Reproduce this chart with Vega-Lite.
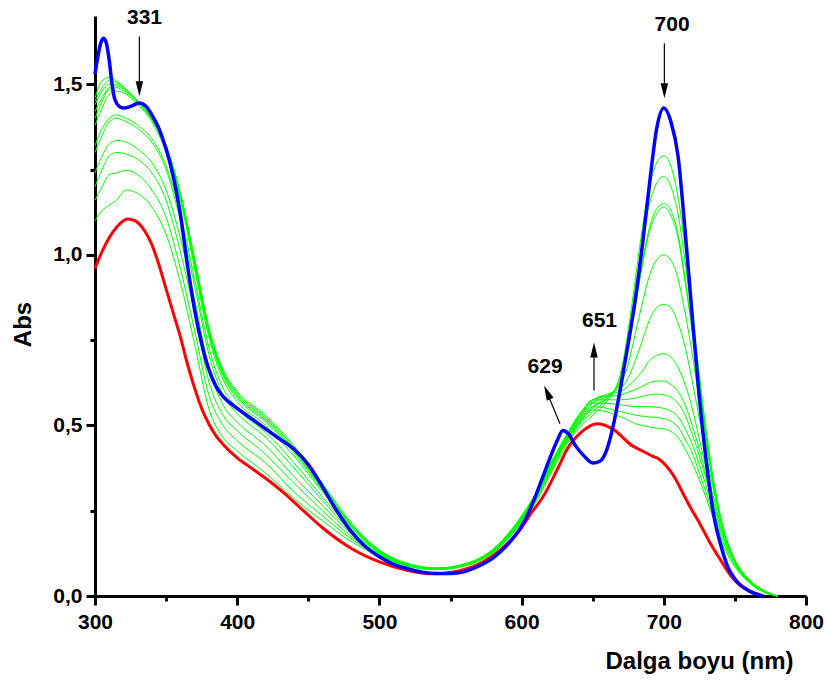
{
"$schema": "https://vega.github.io/schema/vega-lite/v6.json",
"autosize": "none",
"width": 711, "height": 580,
"padding": {"left": 95, "top": 16, "right": 21, "bottom": 86},
"background": "white",
"config": {"view": {"stroke": null},
 "axis": {"grid": false, "domainColor": "black", "domainWidth": 3, "tickColor": "black", "tickWidth": 3,
  "labelFont": "Liberation Sans", "labelFontWeight": "bold", "labelFontSize": 21, "labelColor": "black",
  "titleFont": "Liberation Sans", "titleFontWeight": "bold", "titleFontSize": 24, "titleColor": "black",
  "labelOverlap": false, "labelFlush": false}},
"datasets": {
"notes": [
 {"w": 334.8, "a": 1.694, "label": "331"},
 {"w": 705.8, "a": 1.674, "label": "700"},
 {"w": 654.8, "a": 0.806, "label": "651"},
 {"w": 616.5, "a": 0.672, "label": "629"}
],
"arrows": [
 {"w": 331.2, "a": 1.640, "w2": 331.2, "a2": 1.50},
 {"w": 700.4, "a": 1.620, "w2": 700.4, "a2": 1.49},
 {"w": 650.9, "a": 0.602, "w2": 650.9, "a2": 0.71},
 {"w": 627.0, "a": 0.505, "w2": 618.5, "a2": 0.59}
],
"downheads": [
 {"w": 331.2, "a": 1.487},
 {"w": 700.4, "a": 1.481}
],
"upheads": [
 {"w": 650.9, "a": 0.721}
],
"slantheads": [
 {"w": 617.96, "a": 0.597}
],
"spectra": [
{"s":"blue","w":300,"a":1.53},{"s":"blue","w":302,"a":1.58},{"s":"blue","w":304,"a":1.62},{"s":"blue","w":306,"a":1.635},{"s":"blue","w":308,"a":1.62},{"s":"blue","w":310,"a":1.57},{"s":"blue","w":312,"a":1.50},{"s":"blue","w":314,"a":1.455},{"s":"blue","w":317,"a":1.435},{"s":"blue","w":320,"a":1.43},{"s":"blue","w":325,"a":1.435},{"s":"blue","w":331,"a":1.445},{"s":"blue","w":336,"a":1.435},{"s":"blue","w":340,"a":1.41},{"s":"blue","w":345,"a":1.37},{"s":"blue","w":350,"a":1.31},{"s":"blue","w":355,"a":1.23},{"s":"blue","w":360,"a":1.12},{"s":"blue","w":365,"a":0.97},{"s":"blue","w":370,"a":0.84},{"s":"blue","w":375,"a":0.74},{"s":"blue","w":380,"a":0.665},{"s":"blue","w":385,"a":0.615},{"s":"blue","w":390,"a":0.585},{"s":"blue","w":400,"a":0.55},{"s":"blue","w":410,"a":0.52},{"s":"blue","w":420,"a":0.49},{"s":"blue","w":430,"a":0.46},{"s":"blue","w":440,"a":0.43},{"s":"blue","w":450,"a":0.385},{"s":"blue","w":460,"a":0.32},{"s":"blue","w":470,"a":0.25},{"s":"blue","w":480,"a":0.19},{"s":"blue","w":490,"a":0.145},{"s":"blue","w":500,"a":0.115},{"s":"blue","w":510,"a":0.093},{"s":"blue","w":520,"a":0.08},{"s":"blue","w":530,"a":0.07},{"s":"blue","w":540,"a":0.066},{"s":"blue","w":550,"a":0.066},{"s":"blue","w":560,"a":0.072},{"s":"blue","w":570,"a":0.088},{"s":"blue","w":580,"a":0.112},{"s":"blue","w":590,"a":0.15},{"s":"blue","w":600,"a":0.205},{"s":"blue","w":605,"a":0.245},{"s":"blue","w":610,"a":0.295},{"s":"blue","w":615,"a":0.35},{"s":"blue","w":620,"a":0.405},{"s":"blue","w":625,"a":0.455},{"s":"blue","w":629,"a":0.485},{"s":"blue","w":633,"a":0.475},{"s":"blue","w":638,"a":0.44},{"s":"blue","w":644,"a":0.41},{"s":"blue","w":650,"a":0.39},{"s":"blue","w":655,"a":0.395},{"s":"blue","w":660,"a":0.43},{"s":"blue","w":665,"a":0.51},{"s":"blue","w":670,"a":0.62},{"s":"blue","w":675,"a":0.74},{"s":"blue","w":680,"a":0.87},{"s":"blue","w":685,"a":1.03},{"s":"blue","w":690,"a":1.21},{"s":"blue","w":695,"a":1.37},{"s":"blue","w":700,"a":1.43},{"s":"blue","w":705,"a":1.39},{"s":"blue","w":710,"a":1.29},{"s":"blue","w":715,"a":1.07},{"s":"blue","w":720,"a":0.82},{"s":"blue","w":725,"a":0.58},{"s":"blue","w":730,"a":0.39},{"s":"blue","w":735,"a":0.24},{"s":"blue","w":740,"a":0.15},{"s":"blue","w":745,"a":0.085},{"s":"blue","w":750,"a":0.05},{"s":"blue","w":760,"a":0.015},{"s":"blue","w":770,"a":0},
{"s":"red","w":300,"a":0.96},{"s":"red","w":305,"a":1.01},{"s":"red","w":310,"a":1.05},{"s":"red","w":315,"a":1.08},{"s":"red","w":320,"a":1.10},{"s":"red","w":323,"a":1.105},{"s":"red","w":328,"a":1.10},{"s":"red","w":335,"a":1.07},{"s":"red","w":340,"a":1.03},{"s":"red","w":345,"a":0.97},{"s":"red","w":350,"a":0.90},{"s":"red","w":355,"a":0.83},{"s":"red","w":360,"a":0.76},{"s":"red","w":365,"a":0.68},{"s":"red","w":370,"a":0.61},{"s":"red","w":375,"a":0.55},{"s":"red","w":380,"a":0.505},{"s":"red","w":385,"a":0.47},{"s":"red","w":390,"a":0.445},{"s":"red","w":400,"a":0.405},{"s":"red","w":410,"a":0.375},{"s":"red","w":420,"a":0.345},{"s":"red","w":432,"a":0.305},{"s":"red","w":444,"a":0.26},{"s":"red","w":460,"a":0.20},{"s":"red","w":480,"a":0.14},{"s":"red","w":500,"a":0.10},{"s":"red","w":520,"a":0.075},{"s":"red","w":537,"a":0.065},{"s":"red","w":555,"a":0.073},{"s":"red","w":573,"a":0.10},{"s":"red","w":585,"a":0.135},{"s":"red","w":597,"a":0.184},{"s":"red","w":608,"a":0.25},{"s":"red","w":615,"a":0.29},{"s":"red","w":625,"a":0.37},{"s":"red","w":632,"a":0.43},{"s":"red","w":642,"a":0.48},{"s":"red","w":653,"a":0.505},{"s":"red","w":664,"a":0.49},{"s":"red","w":678,"a":0.44},{"s":"red","w":685,"a":0.425},{"s":"red","w":692,"a":0.41},{"s":"red","w":697,"a":0.40},{"s":"red","w":703,"a":0.375},{"s":"red","w":708,"a":0.345},{"s":"red","w":713,"a":0.305},{"s":"red","w":718,"a":0.265},{"s":"red","w":725,"a":0.215},{"s":"red","w":732,"a":0.16},{"s":"red","w":740,"a":0.105},{"s":"red","w":747,"a":0.06},{"s":"red","w":754,"a":0.03},{"s":"red","w":762,"a":0.012},{"s":"red","w":770,"a":0},
{"s":"g1","w":300,"a":1.46},{"s":"g1","w":305,"a":1.51},{"s":"g1","w":310,"a":1.52},{"s":"g1","w":315,"a":1.51},{"s":"g1","w":322,"a":1.485},{"s":"g1","w":330,"a":1.45},{"s":"g1","w":340,"a":1.40},{"s":"g1","w":350,"a":1.32},{"s":"g1","w":360,"a":1.18},{"s":"g1","w":370,"a":0.99},{"s":"g1","w":380,"a":0.79},{"s":"g1","w":390,"a":0.665},{"s":"g1","w":400,"a":0.60},{"s":"g1","w":420,"a":0.53},{"s":"g1","w":440,"a":0.44},{"s":"g1","w":460,"a":0.33},{"s":"g1","w":480,"a":0.215},{"s":"g1","w":500,"a":0.135},{"s":"g1","w":520,"a":0.095},{"s":"g1","w":540,"a":0.082},{"s":"g1","w":560,"a":0.094},{"s":"g1","w":580,"a":0.138},{"s":"g1","w":600,"a":0.235},{"s":"g1","w":610,"a":0.30},{"s":"g1","w":620,"a":0.375},{"s":"g1","w":630,"a":0.44},{"s":"g1","w":640,"a":0.49},{"s":"g1","w":650,"a":0.53},{"s":"g1","w":660,"a":0.57},{"s":"g1","w":665,"a":0.60},{"s":"g1","w":670,"a":0.66},{"s":"g1","w":675,"a":0.78},{"s":"g1","w":680,"a":0.93},{"s":"g1","w":685,"a":1.08},{"s":"g1","w":690,"a":1.20},{"s":"g1","w":695,"a":1.27},{"s":"g1","w":700,"a":1.29},{"s":"g1","w":705,"a":1.26},{"s":"g1","w":710,"a":1.17},{"s":"g1","w":715,"a":1.02},{"s":"g1","w":720,"a":0.84},{"s":"g1","w":725,"a":0.65},{"s":"g1","w":730,"a":0.48},{"s":"g1","w":735,"a":0.34},{"s":"g1","w":740,"a":0.23},{"s":"g1","w":750,"a":0.10},{"s":"g1","w":760,"a":0.04},{"s":"g1","w":770,"a":0.012},{"s":"g1","w":780,"a":0},
{"s":"g2","w":300,"a":1.45},{"s":"g2","w":305,"a":1.49},{"s":"g2","w":310,"a":1.51},{"s":"g2","w":315,"a":1.505},{"s":"g2","w":322,"a":1.485},{"s":"g2","w":330,"a":1.45},{"s":"g2","w":340,"a":1.40},{"s":"g2","w":350,"a":1.32},{"s":"g2","w":360,"a":1.18},{"s":"g2","w":370,"a":0.99},{"s":"g2","w":380,"a":0.785},{"s":"g2","w":390,"a":0.66},{"s":"g2","w":400,"a":0.595},{"s":"g2","w":420,"a":0.525},{"s":"g2","w":440,"a":0.435},{"s":"g2","w":460,"a":0.325},{"s":"g2","w":480,"a":0.213},{"s":"g2","w":500,"a":0.134},{"s":"g2","w":520,"a":0.095},{"s":"g2","w":540,"a":0.082},{"s":"g2","w":560,"a":0.094},{"s":"g2","w":580,"a":0.137},{"s":"g2","w":600,"a":0.234},{"s":"g2","w":610,"a":0.30},{"s":"g2","w":620,"a":0.38},{"s":"g2","w":630,"a":0.445},{"s":"g2","w":640,"a":0.50},{"s":"g2","w":650,"a":0.54},{"s":"g2","w":660,"a":0.575},{"s":"g2","w":665,"a":0.60},{"s":"g2","w":670,"a":0.65},{"s":"g2","w":675,"a":0.76},{"s":"g2","w":680,"a":0.90},{"s":"g2","w":685,"a":1.04},{"s":"g2","w":690,"a":1.15},{"s":"g2","w":695,"a":1.21},{"s":"g2","w":700,"a":1.23},{"s":"g2","w":705,"a":1.20},{"s":"g2","w":710,"a":1.12},{"s":"g2","w":715,"a":0.98},{"s":"g2","w":720,"a":0.81},{"s":"g2","w":725,"a":0.63},{"s":"g2","w":730,"a":0.47},{"s":"g2","w":735,"a":0.33},{"s":"g2","w":740,"a":0.225},{"s":"g2","w":750,"a":0.10},{"s":"g2","w":760,"a":0.04},{"s":"g2","w":770,"a":0.012},{"s":"g2","w":780,"a":0},
{"s":"g3","w":300,"a":1.44},{"s":"g3","w":305,"a":1.48},{"s":"g3","w":310,"a":1.50},{"s":"g3","w":315,"a":1.50},{"s":"g3","w":322,"a":1.48},{"s":"g3","w":330,"a":1.45},{"s":"g3","w":340,"a":1.40},{"s":"g3","w":350,"a":1.32},{"s":"g3","w":360,"a":1.18},{"s":"g3","w":370,"a":0.98},{"s":"g3","w":380,"a":0.78},{"s":"g3","w":390,"a":0.655},{"s":"g3","w":400,"a":0.59},{"s":"g3","w":420,"a":0.52},{"s":"g3","w":440,"a":0.43},{"s":"g3","w":460,"a":0.32},{"s":"g3","w":480,"a":0.21},{"s":"g3","w":500,"a":0.133},{"s":"g3","w":520,"a":0.094},{"s":"g3","w":540,"a":0.081},{"s":"g3","w":560,"a":0.093},{"s":"g3","w":580,"a":0.136},{"s":"g3","w":600,"a":0.233},{"s":"g3","w":610,"a":0.30},{"s":"g3","w":620,"a":0.38},{"s":"g3","w":630,"a":0.45},{"s":"g3","w":640,"a":0.505},{"s":"g3","w":650,"a":0.55},{"s":"g3","w":660,"a":0.58},{"s":"g3","w":665,"a":0.60},{"s":"g3","w":670,"a":0.64},{"s":"g3","w":675,"a":0.74},{"s":"g3","w":680,"a":0.86},{"s":"g3","w":685,"a":0.98},{"s":"g3","w":690,"a":1.08},{"s":"g3","w":695,"a":1.135},{"s":"g3","w":700,"a":1.15},{"s":"g3","w":705,"a":1.13},{"s":"g3","w":710,"a":1.06},{"s":"g3","w":715,"a":0.93},{"s":"g3","w":720,"a":0.78},{"s":"g3","w":725,"a":0.61},{"s":"g3","w":730,"a":0.46},{"s":"g3","w":735,"a":0.33},{"s":"g3","w":740,"a":0.225},{"s":"g3","w":750,"a":0.10},{"s":"g3","w":760,"a":0.042},{"s":"g3","w":770,"a":0.013},{"s":"g3","w":780,"a":0},
{"s":"g4","w":300,"a":1.42},{"s":"g4","w":305,"a":1.46},{"s":"g4","w":310,"a":1.49},{"s":"g4","w":315,"a":1.495},{"s":"g4","w":322,"a":1.48},{"s":"g4","w":330,"a":1.45},{"s":"g4","w":340,"a":1.40},{"s":"g4","w":350,"a":1.32},{"s":"g4","w":360,"a":1.175},{"s":"g4","w":370,"a":0.975},{"s":"g4","w":380,"a":0.775},{"s":"g4","w":390,"a":0.65},{"s":"g4","w":400,"a":0.585},{"s":"g4","w":420,"a":0.515},{"s":"g4","w":440,"a":0.425},{"s":"g4","w":460,"a":0.315},{"s":"g4","w":480,"a":0.208},{"s":"g4","w":500,"a":0.132},{"s":"g4","w":520,"a":0.094},{"s":"g4","w":540,"a":0.081},{"s":"g4","w":560,"a":0.093},{"s":"g4","w":580,"a":0.135},{"s":"g4","w":600,"a":0.232},{"s":"g4","w":610,"a":0.30},{"s":"g4","w":620,"a":0.385},{"s":"g4","w":630,"a":0.455},{"s":"g4","w":640,"a":0.51},{"s":"g4","w":650,"a":0.555},{"s":"g4","w":660,"a":0.58},{"s":"g4","w":665,"a":0.60},{"s":"g4","w":670,"a":0.635},{"s":"g4","w":675,"a":0.73},{"s":"g4","w":680,"a":0.85},{"s":"g4","w":685,"a":0.97},{"s":"g4","w":690,"a":1.07},{"s":"g4","w":695,"a":1.12},{"s":"g4","w":700,"a":1.14},{"s":"g4","w":705,"a":1.115},{"s":"g4","w":710,"a":1.05},{"s":"g4","w":715,"a":0.92},{"s":"g4","w":720,"a":0.775},{"s":"g4","w":725,"a":0.61},{"s":"g4","w":730,"a":0.46},{"s":"g4","w":735,"a":0.33},{"s":"g4","w":740,"a":0.23},{"s":"g4","w":750,"a":0.105},{"s":"g4","w":760,"a":0.044},{"s":"g4","w":770,"a":0.014},{"s":"g4","w":780,"a":0},
{"s":"g5","w":300,"a":1.40},{"s":"g5","w":305,"a":1.45},{"s":"g5","w":310,"a":1.485},{"s":"g5","w":315,"a":1.49},{"s":"g5","w":322,"a":1.475},{"s":"g5","w":330,"a":1.445},{"s":"g5","w":340,"a":1.395},{"s":"g5","w":350,"a":1.31},{"s":"g5","w":360,"a":1.17},{"s":"g5","w":370,"a":0.97},{"s":"g5","w":380,"a":0.77},{"s":"g5","w":390,"a":0.645},{"s":"g5","w":400,"a":0.58},{"s":"g5","w":420,"a":0.51},{"s":"g5","w":440,"a":0.42},{"s":"g5","w":460,"a":0.31},{"s":"g5","w":480,"a":0.205},{"s":"g5","w":500,"a":0.131},{"s":"g5","w":520,"a":0.093},{"s":"g5","w":540,"a":0.08},{"s":"g5","w":560,"a":0.092},{"s":"g5","w":580,"a":0.134},{"s":"g5","w":600,"a":0.23},{"s":"g5","w":610,"a":0.30},{"s":"g5","w":620,"a":0.385},{"s":"g5","w":630,"a":0.46},{"s":"g5","w":640,"a":0.52},{"s":"g5","w":650,"a":0.565},{"s":"g5","w":660,"a":0.585},{"s":"g5","w":665,"a":0.60},{"s":"g5","w":670,"a":0.625},{"s":"g5","w":675,"a":0.68},{"s":"g5","w":680,"a":0.77},{"s":"g5","w":685,"a":0.86},{"s":"g5","w":690,"a":0.94},{"s":"g5","w":695,"a":0.985},{"s":"g5","w":700,"a":1.00},{"s":"g5","w":705,"a":0.985},{"s":"g5","w":710,"a":0.93},{"s":"g5","w":715,"a":0.83},{"s":"g5","w":720,"a":0.71},{"s":"g5","w":725,"a":0.57},{"s":"g5","w":730,"a":0.44},{"s":"g5","w":735,"a":0.32},{"s":"g5","w":740,"a":0.225},{"s":"g5","w":750,"a":0.105},{"s":"g5","w":760,"a":0.046},{"s":"g5","w":770,"a":0.015},{"s":"g5","w":780,"a":0},
{"s":"g6","w":300,"a":1.38},{"s":"g6","w":305,"a":1.43},{"s":"g6","w":310,"a":1.47},{"s":"g6","w":315,"a":1.48},{"s":"g6","w":322,"a":1.47},{"s":"g6","w":330,"a":1.44},{"s":"g6","w":340,"a":1.39},{"s":"g6","w":350,"a":1.30},{"s":"g6","w":360,"a":1.16},{"s":"g6","w":370,"a":0.96},{"s":"g6","w":380,"a":0.76},{"s":"g6","w":390,"a":0.635},{"s":"g6","w":400,"a":0.57},{"s":"g6","w":420,"a":0.50},{"s":"g6","w":440,"a":0.41},{"s":"g6","w":460,"a":0.305},{"s":"g6","w":480,"a":0.203},{"s":"g6","w":500,"a":0.13},{"s":"g6","w":520,"a":0.093},{"s":"g6","w":540,"a":0.08},{"s":"g6","w":560,"a":0.092},{"s":"g6","w":580,"a":0.133},{"s":"g6","w":600,"a":0.228},{"s":"g6","w":610,"a":0.30},{"s":"g6","w":620,"a":0.385},{"s":"g6","w":630,"a":0.46},{"s":"g6","w":640,"a":0.525},{"s":"g6","w":650,"a":0.57},{"s":"g6","w":660,"a":0.59},{"s":"g6","w":665,"a":0.60},{"s":"g6","w":670,"a":0.61},{"s":"g6","w":675,"a":0.64},{"s":"g6","w":680,"a":0.69},{"s":"g6","w":685,"a":0.75},{"s":"g6","w":690,"a":0.81},{"s":"g6","w":695,"a":0.845},{"s":"g6","w":700,"a":0.855},{"s":"g6","w":705,"a":0.845},{"s":"g6","w":710,"a":0.80},{"s":"g6","w":715,"a":0.73},{"s":"g6","w":720,"a":0.63},{"s":"g6","w":725,"a":0.52},{"s":"g6","w":730,"a":0.41},{"s":"g6","w":735,"a":0.31},{"s":"g6","w":740,"a":0.22},{"s":"g6","w":750,"a":0.105},{"s":"g6","w":760,"a":0.047},{"s":"g6","w":770,"a":0.016},{"s":"g6","w":780,"a":0},
{"s":"g7","w":300,"a":1.32},{"s":"g7","w":305,"a":1.37},{"s":"g7","w":310,"a":1.40},{"s":"g7","w":315,"a":1.41},{"s":"g7","w":322,"a":1.40},{"s":"g7","w":330,"a":1.38},{"s":"g7","w":340,"a":1.34},{"s":"g7","w":350,"a":1.26},{"s":"g7","w":360,"a":1.12},{"s":"g7","w":370,"a":0.93},{"s":"g7","w":380,"a":0.73},{"s":"g7","w":390,"a":0.61},{"s":"g7","w":400,"a":0.55},{"s":"g7","w":420,"a":0.48},{"s":"g7","w":440,"a":0.39},{"s":"g7","w":460,"a":0.29},{"s":"g7","w":480,"a":0.197},{"s":"g7","w":500,"a":0.128},{"s":"g7","w":520,"a":0.092},{"s":"g7","w":540,"a":0.08},{"s":"g7","w":560,"a":0.091},{"s":"g7","w":580,"a":0.132},{"s":"g7","w":600,"a":0.226},{"s":"g7","w":610,"a":0.295},{"s":"g7","w":620,"a":0.38},{"s":"g7","w":630,"a":0.46},{"s":"g7","w":640,"a":0.53},{"s":"g7","w":650,"a":0.575},{"s":"g7","w":660,"a":0.59},{"s":"g7","w":665,"a":0.595},{"s":"g7","w":670,"a":0.60},{"s":"g7","w":675,"a":0.615},{"s":"g7","w":680,"a":0.635},{"s":"g7","w":685,"a":0.66},{"s":"g7","w":690,"a":0.69},{"s":"g7","w":695,"a":0.705},{"s":"g7","w":700,"a":0.71},{"s":"g7","w":705,"a":0.70},{"s":"g7","w":710,"a":0.67},{"s":"g7","w":715,"a":0.62},{"s":"g7","w":720,"a":0.55},{"s":"g7","w":725,"a":0.46},{"s":"g7","w":730,"a":0.37},{"s":"g7","w":735,"a":0.29},{"s":"g7","w":740,"a":0.21},{"s":"g7","w":750,"a":0.105},{"s":"g7","w":760,"a":0.048},{"s":"g7","w":770,"a":0.017},{"s":"g7","w":780,"a":0},
{"s":"g8","w":300,"a":1.30},{"s":"g8","w":305,"a":1.35},{"s":"g8","w":310,"a":1.39},{"s":"g8","w":315,"a":1.40},{"s":"g8","w":322,"a":1.39},{"s":"g8","w":330,"a":1.37},{"s":"g8","w":340,"a":1.33},{"s":"g8","w":350,"a":1.25},{"s":"g8","w":360,"a":1.10},{"s":"g8","w":370,"a":0.91},{"s":"g8","w":380,"a":0.71},{"s":"g8","w":390,"a":0.59},{"s":"g8","w":400,"a":0.535},{"s":"g8","w":420,"a":0.465},{"s":"g8","w":440,"a":0.375},{"s":"g8","w":460,"a":0.28},{"s":"g8","w":480,"a":0.19},{"s":"g8","w":500,"a":0.126},{"s":"g8","w":520,"a":0.091},{"s":"g8","w":540,"a":0.079},{"s":"g8","w":560,"a":0.091},{"s":"g8","w":580,"a":0.131},{"s":"g8","w":600,"a":0.224},{"s":"g8","w":610,"a":0.29},{"s":"g8","w":620,"a":0.375},{"s":"g8","w":630,"a":0.455},{"s":"g8","w":640,"a":0.525},{"s":"g8","w":650,"a":0.575},{"s":"g8","w":660,"a":0.585},{"s":"g8","w":665,"a":0.587},{"s":"g8","w":670,"a":0.59},{"s":"g8","w":675,"a":0.597},{"s":"g8","w":680,"a":0.605},{"s":"g8","w":685,"a":0.615},{"s":"g8","w":690,"a":0.625},{"s":"g8","w":695,"a":0.63},{"s":"g8","w":700,"a":0.63},{"s":"g8","w":705,"a":0.62},{"s":"g8","w":710,"a":0.60},{"s":"g8","w":715,"a":0.56},{"s":"g8","w":720,"a":0.50},{"s":"g8","w":725,"a":0.43},{"s":"g8","w":730,"a":0.35},{"s":"g8","w":735,"a":0.275},{"s":"g8","w":740,"a":0.20},{"s":"g8","w":750,"a":0.105},{"s":"g8","w":760,"a":0.048},{"s":"g8","w":770,"a":0.017},{"s":"g8","w":780,"a":0},
{"s":"g9","w":300,"a":1.24},{"s":"g9","w":305,"a":1.29},{"s":"g9","w":310,"a":1.325},{"s":"g9","w":315,"a":1.335},{"s":"g9","w":322,"a":1.33},{"s":"g9","w":330,"a":1.31},{"s":"g9","w":340,"a":1.27},{"s":"g9","w":350,"a":1.19},{"s":"g9","w":360,"a":1.05},{"s":"g9","w":370,"a":0.87},{"s":"g9","w":380,"a":0.67},{"s":"g9","w":390,"a":0.56},{"s":"g9","w":400,"a":0.51},{"s":"g9","w":420,"a":0.44},{"s":"g9","w":440,"a":0.35},{"s":"g9","w":460,"a":0.265},{"s":"g9","w":480,"a":0.183},{"s":"g9","w":500,"a":0.124},{"s":"g9","w":520,"a":0.09},{"s":"g9","w":540,"a":0.079},{"s":"g9","w":560,"a":0.09},{"s":"g9","w":580,"a":0.13},{"s":"g9","w":600,"a":0.222},{"s":"g9","w":610,"a":0.29},{"s":"g9","w":620,"a":0.37},{"s":"g9","w":630,"a":0.45},{"s":"g9","w":640,"a":0.52},{"s":"g9","w":650,"a":0.575},{"s":"g9","w":660,"a":0.575},{"s":"g9","w":665,"a":0.575},{"s":"g9","w":670,"a":0.575},{"s":"g9","w":675,"a":0.577},{"s":"g9","w":680,"a":0.58},{"s":"g9","w":685,"a":0.585},{"s":"g9","w":690,"a":0.59},{"s":"g9","w":695,"a":0.592},{"s":"g9","w":700,"a":0.59},{"s":"g9","w":705,"a":0.582},{"s":"g9","w":710,"a":0.565},{"s":"g9","w":715,"a":0.53},{"s":"g9","w":720,"a":0.475},{"s":"g9","w":725,"a":0.41},{"s":"g9","w":730,"a":0.34},{"s":"g9","w":735,"a":0.265},{"s":"g9","w":740,"a":0.195},{"s":"g9","w":750,"a":0.10},{"s":"g9","w":760,"a":0.047},{"s":"g9","w":770,"a":0.017},{"s":"g9","w":780,"a":0},
{"s":"g10","w":300,"a":1.20},{"s":"g10","w":305,"a":1.25},{"s":"g10","w":310,"a":1.29},{"s":"g10","w":315,"a":1.30},{"s":"g10","w":322,"a":1.295},{"s":"g10","w":330,"a":1.28},{"s":"g10","w":340,"a":1.24},{"s":"g10","w":350,"a":1.16},{"s":"g10","w":360,"a":1.01},{"s":"g10","w":370,"a":0.83},{"s":"g10","w":380,"a":0.63},{"s":"g10","w":390,"a":0.53},{"s":"g10","w":400,"a":0.485},{"s":"g10","w":420,"a":0.415},{"s":"g10","w":440,"a":0.33},{"s":"g10","w":460,"a":0.25},{"s":"g10","w":480,"a":0.175},{"s":"g10","w":500,"a":0.122},{"s":"g10","w":520,"a":0.089},{"s":"g10","w":540,"a":0.078},{"s":"g10","w":560,"a":0.09},{"s":"g10","w":580,"a":0.129},{"s":"g10","w":600,"a":0.22},{"s":"g10","w":610,"a":0.285},{"s":"g10","w":620,"a":0.365},{"s":"g10","w":630,"a":0.445},{"s":"g10","w":640,"a":0.515},{"s":"g10","w":650,"a":0.565},{"s":"g10","w":660,"a":0.565},{"s":"g10","w":665,"a":0.563},{"s":"g10","w":670,"a":0.56},{"s":"g10","w":675,"a":0.557},{"s":"g10","w":680,"a":0.555},{"s":"g10","w":685,"a":0.555},{"s":"g10","w":690,"a":0.555},{"s":"g10","w":695,"a":0.553},{"s":"g10","w":700,"a":0.55},{"s":"g10","w":705,"a":0.542},{"s":"g10","w":710,"a":0.525},{"s":"g10","w":715,"a":0.49},{"s":"g10","w":720,"a":0.445},{"s":"g10","w":725,"a":0.385},{"s":"g10","w":730,"a":0.32},{"s":"g10","w":735,"a":0.25},{"s":"g10","w":740,"a":0.185},{"s":"g10","w":750,"a":0.095},{"s":"g10","w":760,"a":0.045},{"s":"g10","w":770,"a":0.016},{"s":"g10","w":780,"a":0},
{"s":"g11","w":300,"a":1.16},{"s":"g11","w":305,"a":1.20},{"s":"g11","w":310,"a":1.235},{"s":"g11","w":315,"a":1.24},{"s":"g11","w":322,"a":1.248},{"s":"g11","w":330,"a":1.235},{"s":"g11","w":340,"a":1.19},{"s":"g11","w":350,"a":1.11},{"s":"g11","w":360,"a":0.96},{"s":"g11","w":370,"a":0.78},{"s":"g11","w":380,"a":0.59},{"s":"g11","w":390,"a":0.50},{"s":"g11","w":400,"a":0.455},{"s":"g11","w":420,"a":0.39},{"s":"g11","w":440,"a":0.305},{"s":"g11","w":460,"a":0.235},{"s":"g11","w":480,"a":0.168},{"s":"g11","w":500,"a":0.12},{"s":"g11","w":520,"a":0.088},{"s":"g11","w":540,"a":0.078},{"s":"g11","w":560,"a":0.089},{"s":"g11","w":580,"a":0.128},{"s":"g11","w":600,"a":0.218},{"s":"g11","w":610,"a":0.28},{"s":"g11","w":620,"a":0.36},{"s":"g11","w":630,"a":0.44},{"s":"g11","w":640,"a":0.51},{"s":"g11","w":650,"a":0.555},{"s":"g11","w":660,"a":0.55},{"s":"g11","w":665,"a":0.545},{"s":"g11","w":670,"a":0.54},{"s":"g11","w":675,"a":0.535},{"s":"g11","w":680,"a":0.53},{"s":"g11","w":685,"a":0.527},{"s":"g11","w":690,"a":0.525},{"s":"g11","w":695,"a":0.523},{"s":"g11","w":700,"a":0.52},{"s":"g11","w":705,"a":0.512},{"s":"g11","w":710,"a":0.495},{"s":"g11","w":715,"a":0.46},{"s":"g11","w":720,"a":0.42},{"s":"g11","w":725,"a":0.36},{"s":"g11","w":730,"a":0.30},{"s":"g11","w":735,"a":0.235},{"s":"g11","w":740,"a":0.175},{"s":"g11","w":750,"a":0.09},{"s":"g11","w":760,"a":0.043},{"s":"g11","w":770,"a":0.015},{"s":"g11","w":780,"a":0},
{"s":"g12","w":300,"a":1.10},{"s":"g12","w":305,"a":1.13},{"s":"g12","w":310,"a":1.145},{"s":"g12","w":315,"a":1.16},{"s":"g12","w":322,"a":1.19},{"s":"g12","w":330,"a":1.18},{"s":"g12","w":340,"a":1.14},{"s":"g12","w":350,"a":1.06},{"s":"g12","w":360,"a":0.92},{"s":"g12","w":370,"a":0.74},{"s":"g12","w":380,"a":0.55},{"s":"g12","w":390,"a":0.465},{"s":"g12","w":400,"a":0.425},{"s":"g12","w":420,"a":0.36},{"s":"g12","w":440,"a":0.285},{"s":"g12","w":460,"a":0.22},{"s":"g12","w":480,"a":0.16},{"s":"g12","w":500,"a":0.118},{"s":"g12","w":520,"a":0.087},{"s":"g12","w":540,"a":0.077},{"s":"g12","w":560,"a":0.088},{"s":"g12","w":580,"a":0.127},{"s":"g12","w":600,"a":0.215},{"s":"g12","w":610,"a":0.275},{"s":"g12","w":620,"a":0.355},{"s":"g12","w":630,"a":0.43},{"s":"g12","w":640,"a":0.50},{"s":"g12","w":650,"a":0.545},{"s":"g12","w":660,"a":0.54},{"s":"g12","w":665,"a":0.532},{"s":"g12","w":670,"a":0.525},{"s":"g12","w":675,"a":0.515},{"s":"g12","w":680,"a":0.505},{"s":"g12","w":685,"a":0.50},{"s":"g12","w":690,"a":0.495},{"s":"g12","w":695,"a":0.492},{"s":"g12","w":700,"a":0.49},{"s":"g12","w":705,"a":0.482},{"s":"g12","w":710,"a":0.465},{"s":"g12","w":715,"a":0.43},{"s":"g12","w":720,"a":0.39},{"s":"g12","w":725,"a":0.34},{"s":"g12","w":730,"a":0.285},{"s":"g12","w":735,"a":0.225},{"s":"g12","w":740,"a":0.165},{"s":"g12","w":750,"a":0.085},{"s":"g12","w":760,"a":0.04},{"s":"g12","w":770,"a":0.014},{"s":"g12","w":780,"a":0}
]
},
"encoding": {
 "x": {"field": "w", "type": "quantitative", "scale": {"domain": [300, 800], "nice": false, "zero": false},
  "axis": {"values": [300, 350, 400, 450, 500, 550, 600, 650, 700, 750, 800],
   "labelExpr": "datum.value % 100 === 0 ? datum.label : ''",
   "tickSize": {"condition": {"test": "datum.value % 100 === 0", "value": 9}, "value": 5},
   "labelPadding": 6,
   "title": "Dalga boyu (nm)", "titleX": 604, "titleY": 72, "titleAlign": "center", "titleBaseline": "alphabetic", "titleAnchor": null}},
 "y": {"field": "a", "type": "quantitative", "scale": {"domain": [0, 1.7], "nice": false},
  "axis": {"values": [0, 0.25, 0.5, 0.75, 1, 1.25, 1.5],
   "labelExpr": "round(datum.value*4) % 2 === 0 ? replace(format(datum.value, '.1f'), '.', ',') : ''",
   "tickSize": {"condition": {"test": "round(datum.value*4) % 2 === 0", "value": 9}, "value": 5},
   "labelPadding": 4,
   "title": "Abs", "titleX": -65, "titleY": 308, "titleAlign": "center", "titleBaseline": "alphabetic", "titleAngle": -90, "titleAnchor": null}}
},
"layer": [
 {"data": {"name": "spectra"}, "transform": [{"filter": "datum.s !== 'blue' && datum.s !== 'red'"}],
  "mark": {"type": "line", "interpolate": "monotone", "strokeWidth": 1, "color": "#00ff00"},
  "encoding": {"detail": {"field": "s"}}},
 {"data": {"name": "spectra"}, "transform": [{"filter": "datum.s === 'red'"}],
  "mark": {"type": "line", "interpolate": "monotone", "strokeWidth": 3, "color": "#ff0000"}, "encoding": {}},
 {"data": {"name": "spectra"}, "transform": [{"filter": "datum.s === 'blue'"}],
  "mark": {"type": "line", "interpolate": "monotone", "strokeWidth": 3.5, "color": "#0000ff"}, "encoding": {}},
 {"data": {"name": "arrows"}, "mark": {"type": "rule", "color": "black", "strokeWidth": 1.2},
  "encoding": {"x2": {"field": "w2"}, "y2": {"field": "a2"}}},
 {"data": {"name": "downheads"}, "mark": {"type": "point", "shape": "M-0.5,-1L0.5,-1L0,1Z", "filled": true, "color": "black", "size": 225, "opacity": 1}, "encoding": {}},
 {"data": {"name": "upheads"}, "mark": {"type": "point", "shape": "M-0.5,1L0.5,1L0,-1Z", "filled": true, "color": "black", "size": 225, "opacity": 1}, "encoding": {}},
 {"data": {"name": "slantheads"}, "mark": {"type": "point", "shape": "M-0.5,1L0.5,1L0,-1Z", "angle": -24, "filled": true, "color": "black", "size": 225, "opacity": 1}, "encoding": {}},
 {"data": {"name": "notes"}, "mark": {"type": "text", "font": "Liberation Sans", "fontWeight": "bold", "fontSize": 21, "color": "black", "align": "center", "baseline": "middle"},
  "encoding": {"text": {"field": "label"}}}
]
}
